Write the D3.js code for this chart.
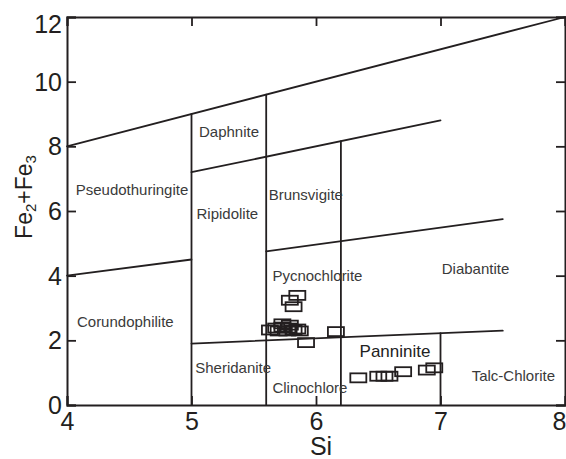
<!DOCTYPE html>
<html>
<head>
<meta charset="utf-8">
<script src="https://cdn.jsdelivr.net/npm/d3@7/dist/d3.min.js"></script>
<style>
  html, body { margin: 0; padding: 0; background: #fff; }
  svg { display: block; }
</style>
</head>
<body>
<svg id="chart" width="566" height="459"></svg>
<script>
// ---- data ----
const xTicks = [4, 5, 6, 7, 8];
const yTicks = [0, 2, 4, 6, 8, 10, 12];
const xLabel = "Si";

// boundary segments [x1, y1, x2, y2] in data units
const boundaryLines = [
  [4, 8, 8, 12],
  [5, 7.2, 7, 8.8],
  [4, 4, 5, 4.5],
  [5.6, 4.75, 7.5, 5.75],
  [5, 1.9, 7.5, 2.3],
  [5, 0, 5, 9],
  [5.6, 0, 5.6, 9.6],
  [6.2, 0, 6.2, 8.16],
  [7, 0, 7, 2.22]
];

const fieldNames = ["Pseudothuringite", "Corundophilite", "Daphnite", "Ripidolite", "Brunsvigite",
  "Pycnochlorite", "Diabantite", "Sheridanite", "Clinochlore", "Panninite", "Talc-Chlorite"];
const fieldX = [4.07, 4.08, 5.06, 5.04, 5.62, 5.65, 7.01, 5.03, 5.65, 6.35, 7.25];
const fieldY = [6.5, 2.4, 8.3, 5.75, 6.35, 3.85, 4.05, 0.98, 0.36, 1.5, 0.75];
const fieldSize = [15, 15, 15, 15, 15, 15, 15, 15, 15, 17, 15];

const sampleSi = [5.85, 5.79, 5.82,
  5.63, 5.68, 5.73, 5.78, 5.82, 5.85, 5.73, 5.79, 5.70, 5.77, 5.87,
  5.92, 6.16,
  6.34, 6.50, 6.55, 6.59, 6.70, 6.89, 6.95];
const sampleFe = [3.39, 3.24, 3.04,
  2.32, 2.38, 2.41, 2.38, 2.32, 2.35, 2.51, 2.47, 2.29, 2.29, 2.29,
  1.93, 2.27,
  0.84, 0.89, 0.89, 0.89, 1.03, 1.08, 1.15];

// ---- layout ----
const W = 566, H = 459;
const m = { left: 67, right: 1, top: 17, bottom: 54 };
const ink = "#231f20";
const font = "'Liberation Sans', Arial, sans-serif";

const svg = d3.select("#chart");
const x = d3.scaleLinear().domain([4, 8]).range([m.left, W - m.right]);
const y = d3.scaleLinear().domain([0, 12]).range([H - m.bottom, m.top]);

// boundary lines
svg.append("g").selectAll("line").data(boundaryLines).join("line")
  .attr("x1", d => x(d[0])).attr("y1", d => y(d[1]))
  .attr("x2", d => x(d[2])).attr("y2", d => y(d[3]))
  .attr("stroke", ink).attr("stroke-width", 1.8).attr("stroke-linecap", "round");

// axes (inward ticks on all four sides)
const tk = 9;
const axB = svg.append("g").attr("transform", `translate(0,${y(0)})`)
  .call(d3.axisBottom(x).tickValues(xTicks).tickSize(-tk).tickPadding(7).tickFormat(d3.format("d")));
const axT = svg.append("g").attr("transform", `translate(0,${y(12)})`)
  .call(d3.axisTop(x).tickValues(xTicks).tickSize(-tk).tickFormat(""));
const axL = svg.append("g").attr("transform", `translate(${x(4)},0)`)
  .call(d3.axisLeft(y).tickValues(yTicks).tickSize(-tk).tickPadding(5).tickFormat(d3.format("d")));
const axR = svg.append("g").attr("transform", `translate(${x(8)},0)`)
  .call(d3.axisRight(y).tickValues(yTicks).tickSize(-tk).tickFormat(""));

[axB, axT, axL, axR].forEach(a => {
  a.select(".domain").attr("stroke", ink).attr("stroke-width", 2);
  a.selectAll(".tick line").attr("stroke", ink).attr("stroke-width", 1.8);
  a.selectAll("text").attr("fill", ink).attr("font-family", font).attr("font-size", 25);
});
axL.selectAll(".tick text").attr("dy", d => d === 12 ? "0.62em" : "0.34em");
axB.selectAll(".tick text").attr("dy", "0.71em")
  .attr("text-anchor", d => d === 8 ? "end" : "middle")
  .attr("dx", d => d === 8 ? 1 : 0);

// axis titles
svg.append("text").attr("x", 321).attr("y", 455).attr("text-anchor", "middle")
  .attr("font-family", font).attr("font-size", 25).attr("fill", ink)
  .text(xLabel);

const yt = svg.append("text").attr("transform", "translate(32,197) rotate(-90)")
  .attr("text-anchor", "middle")
  .attr("font-family", font).attr("font-size", 23).attr("fill", ink);
yt.append("tspan").text("Fe");
yt.append("tspan").attr("font-size", 15).attr("dy", 4).text("2");
yt.append("tspan").attr("dy", -4).text("+Fe");
yt.append("tspan").attr("font-size", 15).attr("dy", 4).text("3");

// field labels
svg.append("g").selectAll("text").data(fieldNames).join("text")
  .attr("x", (d, i) => x(fieldX[i])).attr("y", (d, i) => y(fieldY[i]))
  .attr("font-family", font)
  .attr("font-size", (d, i) => fieldSize[i])
  .attr("fill", (d, i) => fieldSize[i] > 15 ? "#222" : "#3a3a3a")
  .text(d => d);

// samples (open rectangles)
const rw = 16, rh = 9;
svg.append("g").selectAll("rect").data(sampleSi).join("rect")
  .attr("x", (d) => x(d) - rw / 2).attr("y", (d, i) => y(sampleFe[i]) - rh / 2)
  .attr("width", rw).attr("height", rh)
  .attr("fill", "none").attr("stroke", ink).attr("stroke-width", 1.8);
</script>
</body>
</html>
